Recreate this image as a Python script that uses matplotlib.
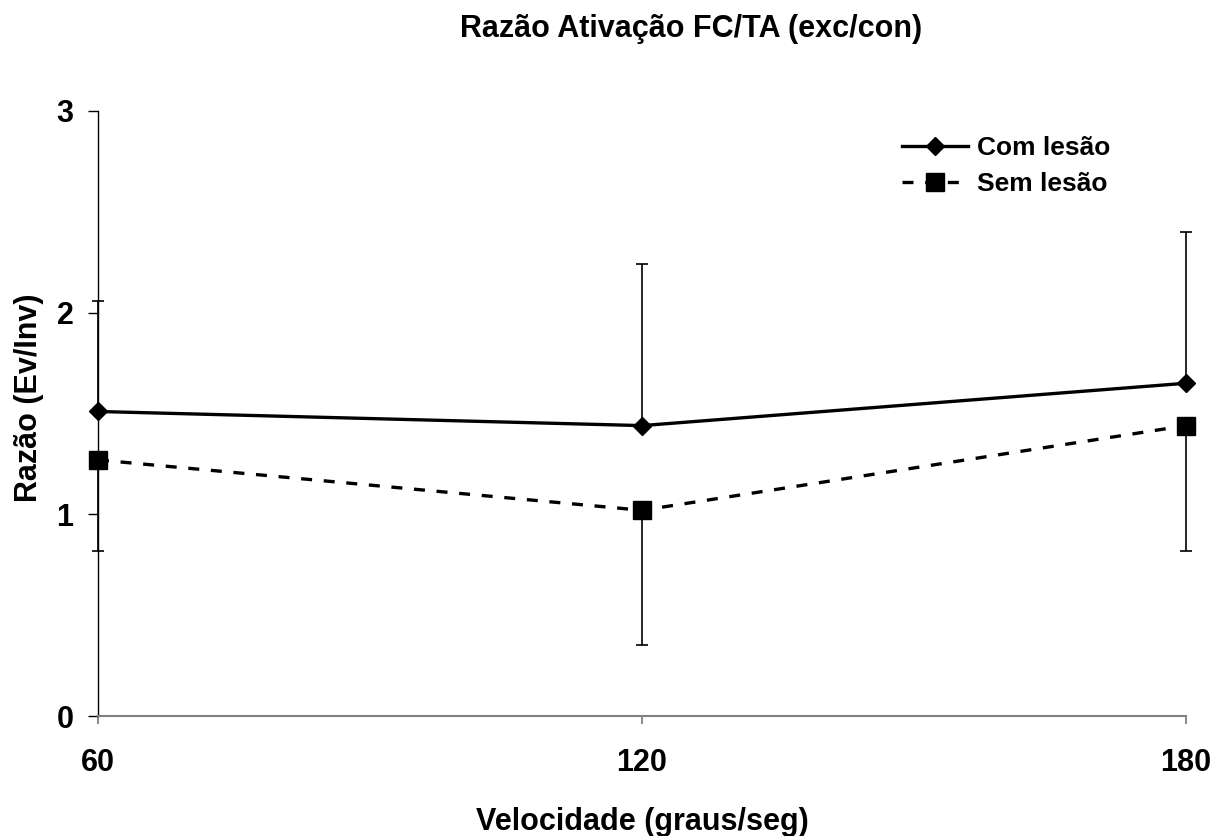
import matplotlib
matplotlib.use("Agg")
import matplotlib.pyplot as plt

plt.rcParams['font.family'] = ['Liberation Sans', 'DejaVu Sans']
plt.rcParams['font.weight'] = 'bold'

# velocidades e razoes medias
velocidade = [60, 120, 180]
com_lesao = [1.51, 1.44, 1.65]
sem_lesao = [1.27, 1.02, 1.44]
# desvio padrao (so um lado de cada serie)
dp_com = [0.55, 0.80, 0.75]
dp_sem = [0.45, 0.67, 0.62]

fig = plt.figure(figsize=(12.27, 8.36), dpi=100)
ax = fig.add_axes([98 / 1227, 1 - 716 / 836, (1186 - 98) / 1227, (716 - 111) / 836])

ax.errorbar(velocidade, com_lesao, yerr=[[0, 0, 0], dp_com], fmt='none',
            ecolor='black', elinewidth=1.2, capsize=4.3, capthick=1.2, clip_on=False)
ax.errorbar(velocidade, sem_lesao, yerr=[dp_sem, [0, 0, 0]], fmt='none',
            ecolor='black', elinewidth=1.2, capsize=4.3, capthick=1.2, clip_on=False)

ax.plot(velocidade, com_lesao, color='black', linewidth=2.4, marker='D',
        markersize=8.9, label='Com lesão', clip_on=False, zorder=3)
ax.plot(velocidade, sem_lesao, color='black', linewidth=2.4, linestyle=(0, (3.3, 3.5)),
        marker='s', markersize=12.5, label='Sem lesão', clip_on=False, zorder=3)

ax.set_xlim(60, 180)
ax.set_ylim(0, 3)
ax.set_xticks(velocidade)
ax.set_yticks([0, 1, 2, 3])
ax.tick_params(axis='y', direction='out', length=7.2, width=1, labelsize=22, pad=10.5)
ax.tick_params(axis='x', direction='out', length=6, width=1.3, color='#808080',
               labelsize=22, pad=17)

for s in ['top', 'right']:
    ax.spines[s].set_visible(False)
ax.spines['left'].set_linewidth(1)
ax.spines['bottom'].set_color('#808080')
ax.spines['bottom'].set_linewidth(1.5)

ax.set_xlabel('Velocidade (graus/seg)', fontsize=22, fontweight='bold', labelpad=21)
ax.set_ylabel('Razão (Ev/Inv)', fontsize=22, fontweight='bold', va='center')
ax.yaxis.set_label_coords(-0.063, 0.526)
fig.text(0.563, 0.965, 'Razão Ativação FC/TA (exc/con)', ha='center', va='center',
         fontsize=22, fontweight='bold')

ax.legend(loc='upper left', bbox_to_anchor=(0.739, 0.958), frameon=False, fontsize=19,
          borderpad=0, borderaxespad=0, handlelength=2.5, handletextpad=0.35,
          labelspacing=0.45)

fig.savefig('out.png', dpi=100)
